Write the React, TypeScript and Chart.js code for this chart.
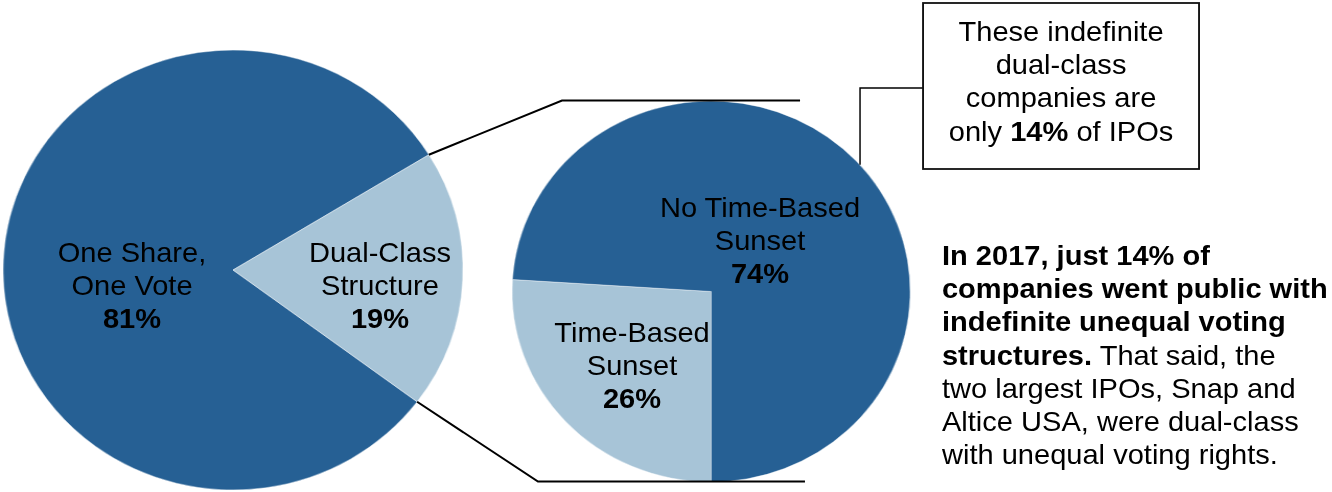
import React, { useEffect, useRef } from "react";
import { Chart, registerables } from "chart.js";

Chart.register(...registerables);

// ---------- data ----------
const mainCategories = ["One Share, One Vote", "Dual-Class Structure"];
const mainValues = [81, 19];
const mainLabelLines = [["One Share,", "One Vote"], ["Dual-Class", "Structure"]];

const dualCategories = ["Time-Based Sunset", "No Time-Based Sunset"];
const dualValues = [26, 74];
const dualLabelLines = [["Time-Based", "Sunset"], ["No Time-Based", "Sunset"]];

const calloutLines = ["These indefinite", "dual-class", "companies are"];
const calloutPct = 14;

const noteBoldLines = ["In 2017, just 14% of", "companies went public with", "indefinite unequal voting"];
const noteMixedBold = "structures.";
const noteMixedRest = " That said, the";
const notePlainLines = ["two largest IPOs, Snap and", "Altice USA, were dual-class", "with unequal voting rights."];

// ---------- styles ----------
const STRETCH = 1.045;
const W = 1332 / STRETCH;
const DARK = "#266094";
const LIGHT = "#A7C4D7";
const FONT = "'Liberation Sans', Arial, Helvetica, sans-serif";
const FS = 27.8;
const LH = 33.3;

const LEFT = { cx: 223, cy: 270, r: 220, rotation: 126.8 };
const RIGHT = { cx: 680.4, cy: 291, r: 190.5, rotation: 180 };

function sliceAngle(values: number[], rotation: number, idx: number, end: boolean) {
  const total = values.reduce((a, b) => a + b, 0);
  let cum = 0;
  for (let i = 0; i < idx + (end ? 1 : 0); i++) cum += values[i];
  return ((rotation - 90 + (360 * cum) / total) * Math.PI) / 180;
}

function Pie(props: {
  labels: string[];
  values: number[];
  colors: string[];
  geo: { cx: number; cy: number; r: number; rotation: number };
}) {
  const ref = useRef<HTMLCanvasElement>(null);
  const { geo } = props;
  const size = Math.ceil(geo.r * 2 + 20);
  useEffect(() => {
    const chart = new Chart(ref.current as HTMLCanvasElement, {
      type: "pie",
      data: {
        labels: props.labels,
        datasets: [
          {
            data: props.values,
            backgroundColor: props.colors,
            borderColor: "rgba(255,255,255,0.5)",
            borderWidth: 0.8,
            rotation: geo.rotation,
            radius: geo.r,
          } as any,
        ],
      },
      options: {
        animation: false,
        responsive: true,
        maintainAspectRatio: false,
        layout: { padding: 0 },
        events: [],
        plugins: { legend: { display: false }, tooltip: { enabled: false } },
      },
    });
    return () => chart.destroy();
  }, []);
  return (
    <div
      style={{
        position: "absolute",
        left: geo.cx - size / 2,
        top: geo.cy - size / 2,
        width: size,
        height: size,
      }}
    >
      <canvas ref={ref} />
    </div>
  );
}

function SliceLabel(props: { cx: number; firstBaseline: number; lines: string[]; pct: number }) {
  const baselineOffset = (LH - 1.117 * FS) / 2 + 0.905 * FS;
  return (
    <div
      style={{
        position: "absolute",
        left: props.cx - 170,
        width: 340,
        top: props.firstBaseline - baselineOffset,
        textAlign: "center",
        fontFamily: FONT,
        fontSize: FS,
        lineHeight: `${LH}px`,
        color: "#000",
        whiteSpace: "nowrap",
      }}
    >
      {props.lines.map((l, i) => (
        <div key={i}>{l}</div>
      ))}
      <div style={{ fontWeight: 700 }}>{props.pct}%</div>
    </div>
  );
}

export default function App() {
  const baselineOffset = (LH - 1.117 * FS) / 2 + 0.905 * FS;

  // connector geometry from the left pie's dual-class slice
  const a0 = sliceAngle(mainValues, LEFT.rotation, 1, false);
  const a1 = sliceAngle(mainValues, LEFT.rotation, 1, true);
  const p0 = { x: LEFT.cx + LEFT.r * Math.cos(a0), y: LEFT.cy + LEFT.r * Math.sin(a0) };
  const p1 = { x: LEFT.cx + LEFT.r * Math.cos(a1), y: LEFT.cy + LEFT.r * Math.sin(a1) };
  const topY = RIGHT.cy - RIGHT.r;
  const botY = RIGHT.cy + RIGHT.r;

  // callout connector
  const calloutX = 823;
  const calloutEdgeY = RIGHT.cy - Math.sqrt(RIGHT.r * RIGHT.r - (calloutX - RIGHT.cx) ** 2);
  const box = { x: 883.3, y: 3, w: 264.1, h: 166 };

  return (
    <div
      style={{
        position: "fixed",
        left: 0,
        top: 0,
        width: 1332,
        height: 492,
        overflow: "hidden",
        background: "#fff",
      }}
    >
      <div
        style={{
          position: "absolute",
          left: 0,
          top: 0,
          width: W,
          height: 492,
          transform: `scaleX(${STRETCH})`,
          transformOrigin: "0 0",
        }}
      >
        <Pie labels={mainCategories} values={mainValues} colors={[DARK, LIGHT]} geo={LEFT} />
        <Pie labels={dualCategories} values={dualValues} colors={[LIGHT, DARK]} geo={RIGHT} />

        <svg
          width={W}
          height={492}
          style={{ position: "absolute", left: 0, top: 0 }}
        >
          <polyline
            points={`${p0.x},${p0.y} 537.8,${topY} 765.6,${topY}`}
            fill="none"
            stroke="#000"
            strokeWidth={2}
          />
          <polyline
            points={`${p1.x},${p1.y} 514.8,${botY} 770.3,${botY}`}
            fill="none"
            stroke="#000"
            strokeWidth={2}
          />
          <polyline
            points={`${calloutX},${calloutEdgeY} ${calloutX},88 ${box.x},88`}
            fill="none"
            stroke="#000"
            strokeWidth={1.4}
          />
          <rect
            x={box.x}
            y={box.y}
            width={box.w}
            height={box.h}
            fill="#fff"
            stroke="#111"
            strokeWidth={1.8}
          />
        </svg>

        <SliceLabel cx={126.3} firstBaseline={262} lines={mainLabelLines[0]} pct={mainValues[0]} />
        <SliceLabel cx={363.6} firstBaseline={262} lines={mainLabelLines[1]} pct={mainValues[1]} />
        <SliceLabel cx={727.3} firstBaseline={217} lines={dualLabelLines[1]} pct={dualValues[1]} />
        <SliceLabel cx={604.8} firstBaseline={342} lines={dualLabelLines[0]} pct={dualValues[0]} />

        <div
          style={{
            position: "absolute",
            left: box.x,
            width: box.w,
            top: 41 - baselineOffset,
            textAlign: "center",
            fontFamily: FONT,
            fontSize: FS,
            lineHeight: `${LH}px`,
            color: "#000",
            whiteSpace: "nowrap",
          }}
        >
          {calloutLines.map((l, i) => (
            <div key={i}>{l}</div>
          ))}
          <div>
            only <b>{calloutPct}%</b> of IPOs
          </div>
        </div>

        <div
          style={{
            position: "absolute",
            left: 901.4,
            top: 265 - baselineOffset,
            fontFamily: FONT,
            fontSize: FS,
            lineHeight: `${LH}px`,
            color: "#000",
            whiteSpace: "nowrap",
          }}
        >
          {noteBoldLines.map((l, i) => (
            <div key={i} style={{ fontWeight: 700 }}>
              {l}
            </div>
          ))}
          <div>
            <b>{noteMixedBold}</b>
            {noteMixedRest}
          </div>
          {notePlainLines.map((l, i) => (
            <div key={i}>{l}</div>
          ))}
        </div>
      </div>
    </div>
  );
}
